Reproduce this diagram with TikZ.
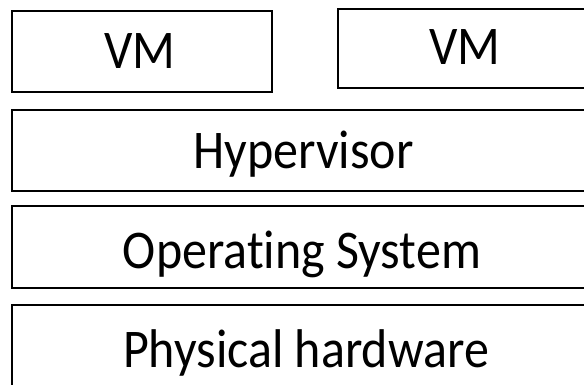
\documentclass[tikz,border=0pt]{standalone}
\usepackage{fontspec}
\setmainfont{Carlito}[Ligatures=NoCommon]
\newcommand{\tallText}[1]{\scalebox{1}[1.09]{#1}}
\begin{document}
\begin{tikzpicture}[x=1pt,y=-1pt,
  layer/.style={draw=black,line width=2.4pt,fill=none},
  lbl/.style={anchor=base,inner sep=0pt,font=\fontsize{50}{60}\selectfont}]
\useasboundingbox (0,0) rectangle (584,385);
\begin{scope}
\clip (0,0) rectangle (584,385);
\draw[layer] (12,11) rectangle (272,92);
\draw[layer] (338,9) rectangle (592,88);
\draw[layer] (12,110) rectangle (596,191);
\draw[layer] (12,206) rectangle (596,288);
\draw[layer] (12,305) rectangle (600,400);
\end{scope}
\node[lbl] (vmA) at (140,69) {\tallText{VM}};
\node[lbl] (vmB) at (465,65) {\tallText{VM}};
\node[lbl] (hyp) at (303.5,168) {\tallText{Hypervisor}};
\node[lbl] (os) at (302,268) {\tallText{Operating System}};
\node[lbl] (hw) at (306,367) {\tallText{Physical hardware}};
\end{tikzpicture}
\end{document}
